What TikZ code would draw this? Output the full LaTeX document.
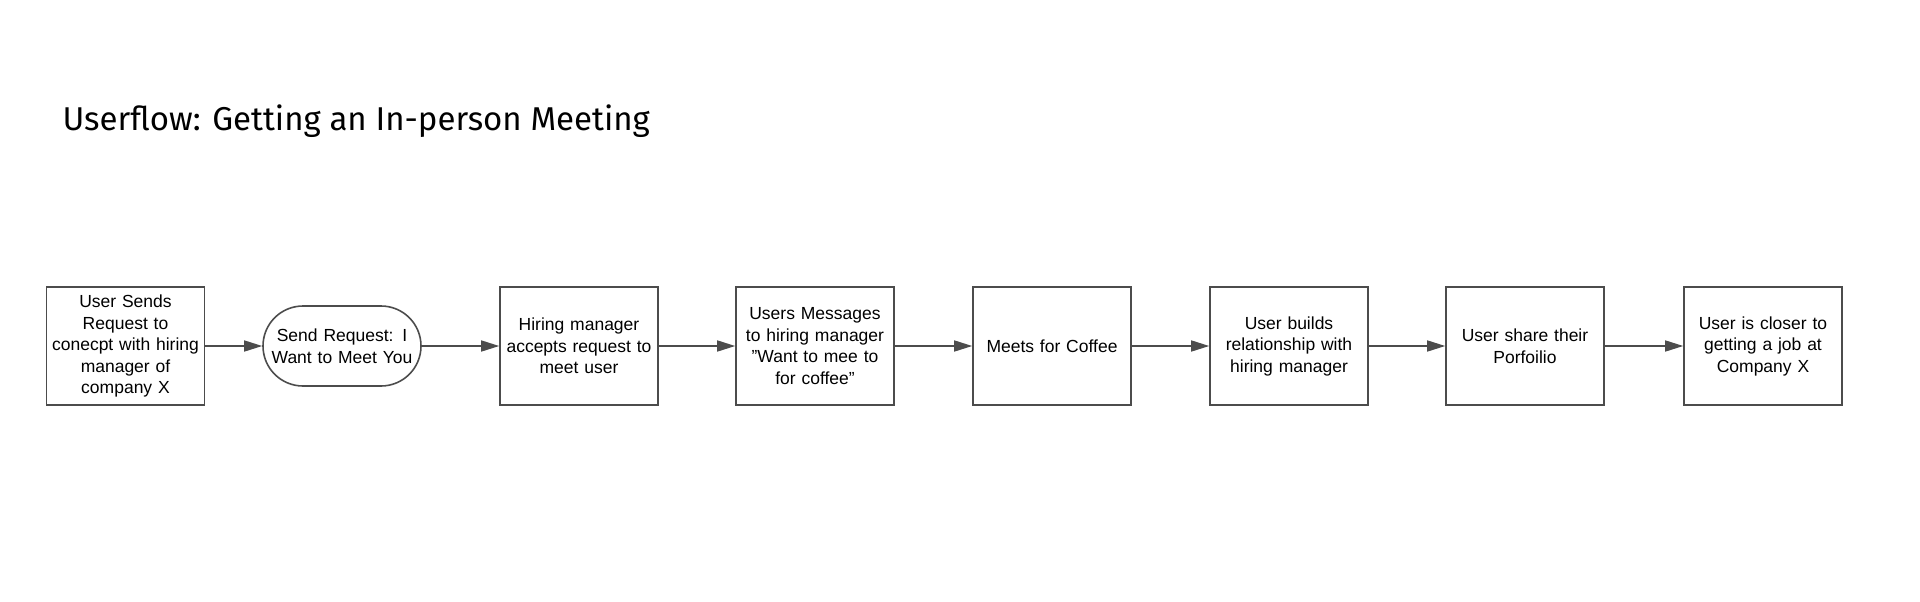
\documentclass[tikz,border=0pt]{standalone}
\usepackage{fontspec}
\setmainfont{Liberation Sans}
\newfontfamily\titlefont{Fira Sans}
\usetikzlibrary{arrows.meta}
\begin{document}
\begin{tikzpicture}[x=1pt,y=-1pt,
  box/.style={draw=black!70,line width=1.6pt,minimum width=158pt,minimum height=118pt,align=center,font=\fontsize{17.5}{21.5}\selectfont,text width=150pt,inner sep=0pt},
  pill/.style={box,rounded corners=40pt,minimum height=80pt},
  arr/.style={draw=black!70,line width=1.6pt,-{Triangle[length=18pt,width=11pt]}}]
\useasboundingbox (0,0) rectangle (1920,602);
\node[anchor=base west,font=\titlefont\fontsize{33}{36}\selectfont] (title) at (59,130) {Userflow: Getting an In-person Meeting};
\node[box] (a) at (125.5,346) {User Sends\\Request to\\conecpt with hiring\\manager of\\company X};
\node[pill] (b) at (342,346) {Send Request: I\\Want to Meet You};
\node[box] (c) at (579,346) {Hiring manager\\accepts request to\\meet user};
\node[box] (d) at (815,346) {Users Messages\\to hiring manager\\"Want to mee to\\for coffee"};
\node[box] (e) at (1052,346) {Meets for Coffee};
\node[box] (f) at (1289,346) {User builds\\relationship with\\hiring manager};
\node[box] (g) at (1525,346) {User share their\\Porfoilio};
\node[box] (h) at (1763,346) {User is closer to\\getting a job at\\Company X};
\foreach \u/\v in {a/b,b/c,c/d,d/e,e/f,f/g,g/h} \draw[arr] (\u) -- (\v);
\end{tikzpicture}
\end{document}
